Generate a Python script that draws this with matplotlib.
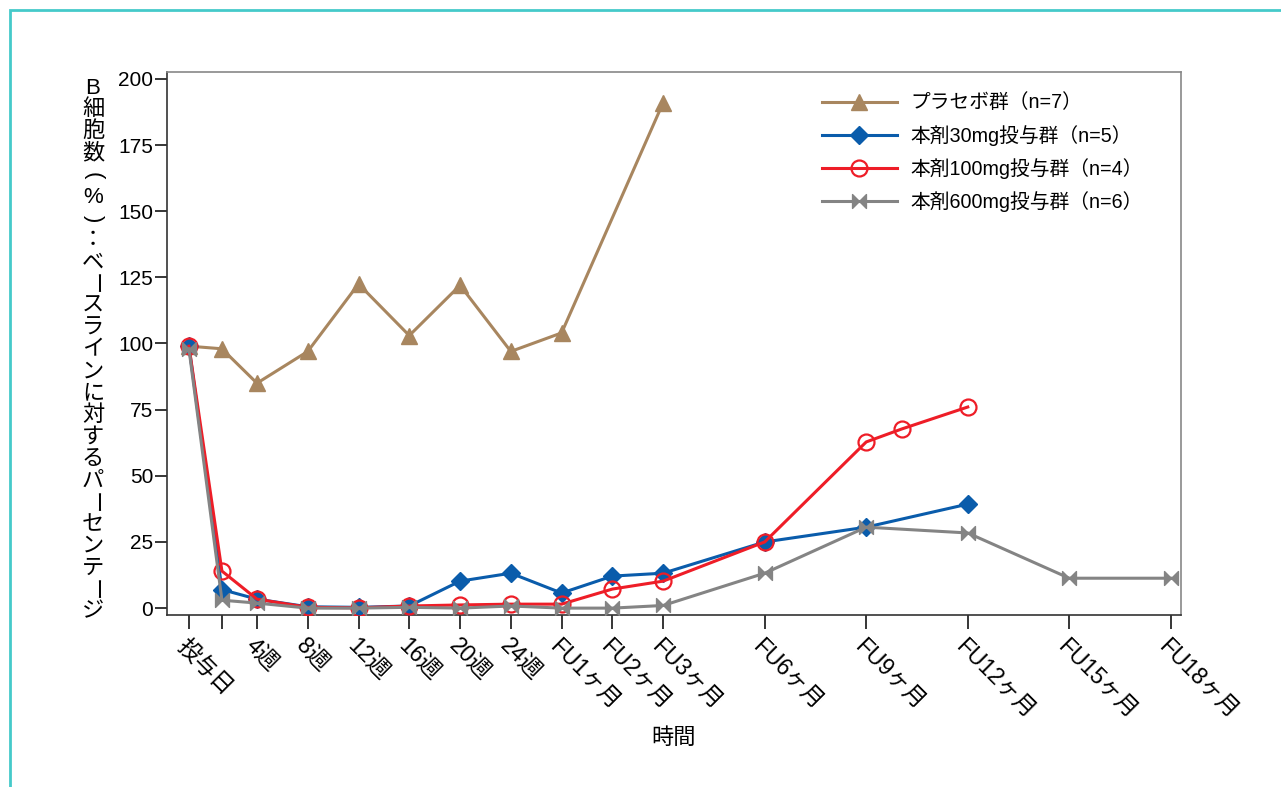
import matplotlib
matplotlib.use("Agg")
import matplotlib.pyplot as plt
from matplotlib.path import Path
from matplotlib.patches import Rectangle

plt.rcParams['font.family'] = ['Liberation Sans', 'Noto Sans CJK JP', 'DejaVu Sans']

# ---- data ----
tick_pos = [-0.34, 0.31, 1, 2, 3, 4, 5, 6, 7, 8, 9, 11, 13, 15, 17, 19]
tick_labels = ['投与日', '', '4週', '8週', '12週', '16週', '20週', '24週',
               'FU1ヶ月', 'FU2ヶ月', 'FU3ヶ月', 'FU6ヶ月', 'FU9ヶ月',
               'FU12ヶ月', 'FU15ヶ月', 'FU18ヶ月']

placebo_x = [-0.34, 0.31, 1, 2, 3, 4, 5, 6, 7, 9]
placebo_y = [99, 98, 85, 97, 122.5, 103, 122, 97, 104, 191]

mg30_x = [-0.34, 0.31, 1, 2, 3, 4, 5, 6, 7, 8, 9, 11, 13, 15]
mg30_y = [99, 7, 3.4, 0.5, 0.3, 0.8, 10.2, 13.2, 5.7, 12.1, 13.2, 25, 30.6, 39.3]

mg100_x = [-0.34, 0.31, 1, 2, 3, 4, 5, 6, 7, 8, 9, 11, 13, 13.7, 15]
mg100_y = [99, 14, 3.4, 0.3, 0.1, 0.8, 1.2, 1.5, 1.5, 7.2, 10.2, 25, 62.8, 67.7, 76]

mg600_x = [-0.34, 0.31, 1, 2, 3, 4, 5, 6, 7, 8, 9, 11, 13, 15, 17, 19]
mg600_y = [98, 3, 1.9, 0, 0, 0.3, 0, 0.8, 0, 0, 1, 13.2, 30.6, 28.4, 11.3, 11.3]

labels = ['プラセボ群（n=7）', '本剤30mg投与群（n=5）', '本剤100mg投与群（n=4）', '本剤600mg投与群（n=6）']
colors = ['#A8865F', '#0A5CAB', '#EE1D27', '#848484']

ylabel_chars = list('B細胞数(%)：ベースラインに対するパーセンテージ')

# bowtie marker
bowtie = Path([(-1, 1), (-1, -1), (0, 0), (-1, 1), (1, 1), (1, -1), (0, 0), (1, 1)],
              [Path.MOVETO, Path.LINETO, Path.LINETO, Path.CLOSEPOLY,
               Path.MOVETO, Path.LINETO, Path.LINETO, Path.CLOSEPOLY])

W, H = 1281, 787
fig = plt.figure(figsize=(W / 100, H / 100), dpi=100)
ax = fig.add_axes([167 / W, 1 - 615 / H, (1181 - 167) / W, (615 - 72) / H])

lw = 2.2
ax.plot(placebo_x, placebo_y, color=colors[0], lw=lw, marker='^', ms=11,
        label=labels[0], zorder=3)
ax.plot(mg30_x, mg30_y, color=colors[1], lw=lw, marker='D', ms=9,
        label=labels[1], zorder=4)
ax.plot(mg100_x, mg100_y, color=colors[2], lw=lw, marker='o', ms=11.5,
        mfc='none', mew=1.6, label=labels[2], zorder=5)
ax.plot(mg600_x, mg600_y, color=colors[3], lw=lw, marker=bowtie, ms=10,
        label=labels[3], zorder=6)

ax.set_xlim(-0.772, 19.2)
ax.set_ylim(-2.6, 202.6)
ax.set_yticks([0, 25, 50, 75, 100, 125, 150, 175, 200])
ax.set_xticks(tick_pos)
ax.set_xticklabels(tick_labels, rotation=-45, ha='left', va='top',
                   rotation_mode='anchor', fontsize=16.5)
ax.tick_params(axis='y', labelsize=15, length=9, width=1.1, direction='out', pad=1)
ax.tick_params(axis='x', length=10, width=1.1, direction='out', pad=4)
for s in ax.spines.values():
    s.set_linewidth(1.2)
    s.set_color('#333333')
ax.spines['right'].set_color('#888888')
ax.spines['top'].set_color('#888888')

ax.set_xlabel('時間', fontsize=16, labelpad=4)

leg = ax.legend(loc='upper left', bbox_to_anchor=(0.638, 0.975), frameon=False,
                fontsize=14.2, handlelength=3.8, handletextpad=0.7,
                labelspacing=0.62, borderaxespad=0)

# vertical (tategaki) y label
x_lab = 93 / W
y0, y1 = 88, 612
n = len(ylabel_chars)
for i, ch in enumerate(ylabel_chars):
    yy = y0 + (y1 - y0) * i / (n - 1)
    rot = -90 if ch in 'ー()' else 0
    fig.text(x_lab, 1 - yy / H, ch, fontsize=16, ha='center', va='center',
             rotation=rot)

# teal frame
fig.patches.append(Rectangle((10 / W, -0.05), 1.2, (1 - 10 / H) + 0.05,
                             transform=fig.transFigure, fill=False,
                             edgecolor='#45CACA', lw=2.0))

fig.savefig('out.png', dpi=100, facecolor='white')
